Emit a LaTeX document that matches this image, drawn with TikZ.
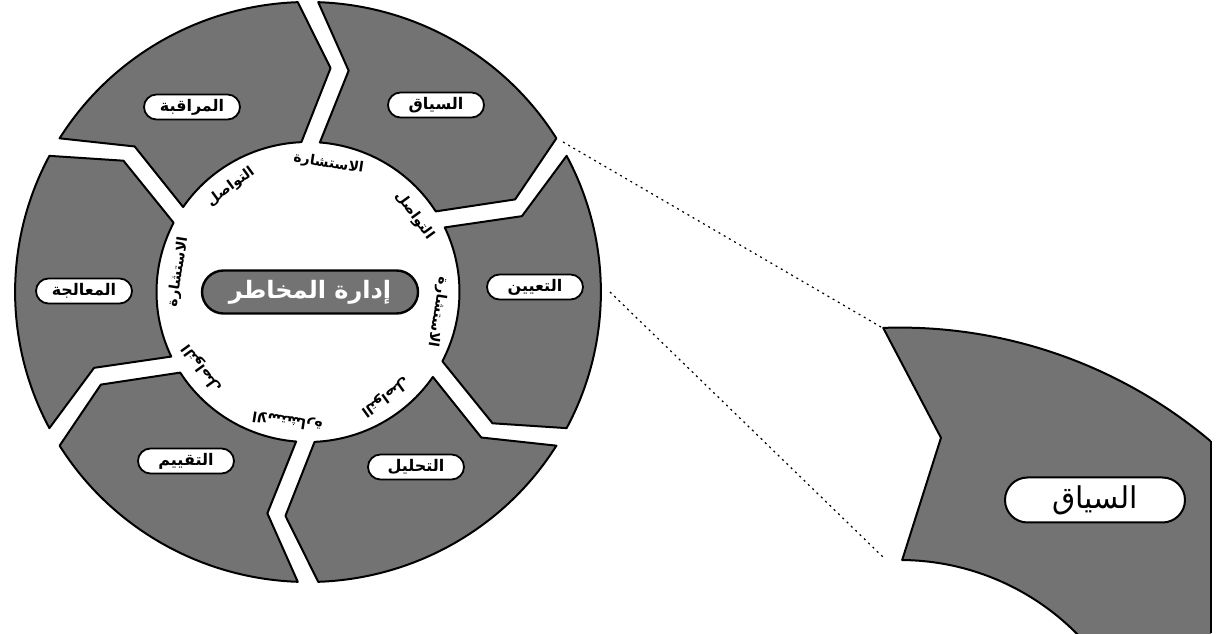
\documentclass[tikz,border=0pt]{standalone}
\usepackage{fontspec}
\newfontfamily\arfont[Script=Arabic]{DejaVu Sans}
\TeXXeTstate=1
\usetikzlibrary{shapes.misc}
\newcommand{\AR}[1]{\arfont\beginR #1\endR}
% segment between trailing gap #1 and leading gap #2 (clockwise chevrons)
\newcommand{\segpath}[2]{({#1-2}:290) arc[start angle={#1-2}, end angle={#2+2}, radius=290] -- ({#2-5.7}:225) -- ({#2+2.5}:150) arc[start angle={#2+2.5}, end angle={#1-4.5}, radius=150] -- ({#1-10.3}:225) -- cycle}
\begin{document}
\begin{tikzpicture}[x=0.5pt,y=0.5pt,
  seg/.style={fill=black!55, draw=black, line width=1pt, line join=round},
  lbl/.style={rounded rectangle, draw=black, line width=0.9pt, fill=white,
    minimum width=50pt, minimum height=12.5pt, inner sep=1pt,
    font=\fontsize{8}{9}\selectfont\bfseries},
  hub/.style={rounded rectangle, draw=black, line width=1.2pt, fill=black!55,
    minimum width=110pt, minimum height=21.5pt, inner sep=1pt, text=white,
    font=\fontsize{12}{14}\selectfont\bfseries},
  ring text/.style={inner sep=0pt, font=\fontsize{7}{8}\selectfont\bfseries},
  biglbl/.style={rounded rectangle, draw=black, line width=1pt, fill=white,
    minimum width=92pt, minimum height=22.5pt, inner sep=1pt,
    font=\fontsize{15}{17}\selectfont},
  zoomline/.style={line width=0.6pt, dash pattern=on 1pt off 2pt}]
\useasboundingbox (0,0) rectangle (1223,633);
\fill[white] (0,0) rectangle (1223,633);

% ring
\begin{scope}[shift={(308,341)}, xscale=1.01]
  \draw[seg] \segpath{90}{30};
  \draw[seg] \segpath{30}{-30};
  \draw[seg] \segpath{-30}{-90};
  \draw[seg] \segpath{-90}{-150};
  \draw[seg] \segpath{-150}{-210};
  \draw[seg] \segpath{150}{90};

  \node[hub] (hub) at (2,0) {\AR{إدارة المخاطر}};

  \node[ring text, rotate=-9]  (t1) at (81:130)  {\AR{الاستشارة}};
  \node[ring text, rotate=36]  (t2) at (126:130) {\AR{التواصل}};
  \node[ring text, rotate=81]  (t3) at (171:130) {\AR{الاستشارة}};
  \node[ring text, rotate=126] (t4) at (216:130) {\AR{التواصل}};
  \node[ring text, rotate=171] (t5) at (261:130) {\AR{الاستشارة}};
  \node[ring text, rotate=216] (t6) at (306:130) {\AR{التواصل}};
  \node[ring text, rotate=261] (t7) at (351:130) {\AR{الاستشارة}};
  \node[ring text, rotate=-54] (t8) at (36:130)  {\AR{التواصل}};
\end{scope}

\node[lbl] (siyaq)  at (436,528) {\AR{السياق}};
\node[lbl] (tayin)  at (535,346) {\AR{التعيين}};
\node[lbl] (tahlil) at (416,166) {\AR{التحليل}};
\node[lbl] (taqyim) at (186,172) {\AR{التقييم}};
\node[lbl] (muala)  at (84,342)  {\AR{المعالجة}};
\node[lbl] (muraq)  at (192,526) {\AR{المراقبة}};

% magnified segment
\begin{scope}
  \clip (0,0) rectangle (1211,633);
  \begin{scope}[shift={(900,-176)}, scale=1.66, rotate=4]
    \draw[seg] \segpath{90}{30};
  \end{scope}
\end{scope}
\draw[line width=1pt] (1211,191.5) -- (1211,0);
\node[biglbl] (bigsiyaq) at (1095,133) {\AR{السياق}};

% zoom lines
\coordinate (a1) at (563,491);
\coordinate (a2) at (881,306);
\coordinate (b1) at (610,341);
\coordinate (b2) at (884,75);
\draw[zoomline] (a1) -- (a2);
\draw[zoomline] (b1) -- (b2);
\end{tikzpicture}
\end{document}
